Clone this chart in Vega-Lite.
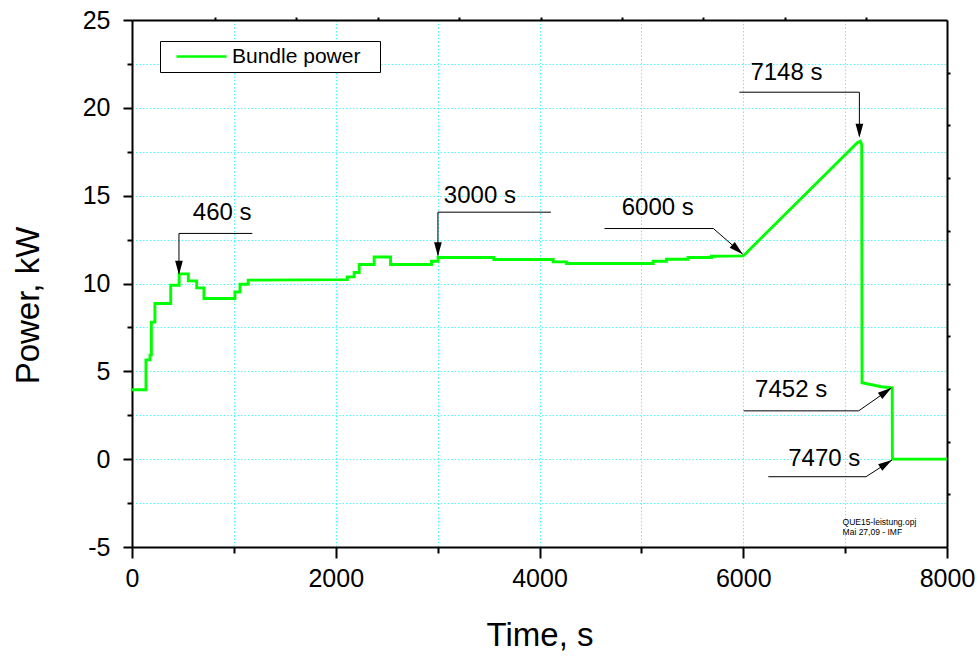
{
  "$schema": "https://vega.github.io/schema/vega-lite/v6.json",
  "width": 815,
  "height": 527,
  "autosize": {"type": "none"},
  "padding": {"left": 132, "top": 20, "right": 33, "bottom": 112},
  "background": "white",
  "config": {
    "font": "Liberation Sans",
    "view": {"stroke": null},
    "axis": {
      "domainColor": "black",
      "domainWidth": 2,
      "tickColor": "black",
      "tickWidth": 2,
      "labelColor": "black",
      "labelFontSize": 25,
      "labelFlush": false,
      "labelOverlap": false,
      "titleColor": "black",
      "titleFontWeight": "normal",
      "titleFontSize": 33,
      "gridColor": "#00ffff",
      "gridOpacity": 0.7,
      "gridDash": [1.5, 2],
      "gridWidth": 1
    }
  },
  "datasets": {
    "power": [
      {"i": 0, "t": 0, "p": 3.95},
      {"i": 1, "t": 137, "p": 3.95},
      {"i": 2, "t": 137, "p": 5.65},
      {"i": 3, "t": 177, "p": 5.65},
      {"i": 4, "t": 177, "p": 5.92},
      {"i": 5, "t": 190, "p": 5.92},
      {"i": 6, "t": 190, "p": 7.8},
      {"i": 7, "t": 225, "p": 7.8},
      {"i": 8, "t": 225, "p": 8.86},
      {"i": 9, "t": 380, "p": 8.86},
      {"i": 10, "t": 380, "p": 9.9},
      {"i": 11, "t": 463, "p": 9.9},
      {"i": 12, "t": 463, "p": 10.55},
      {"i": 13, "t": 553, "p": 10.55},
      {"i": 14, "t": 553, "p": 10.15},
      {"i": 15, "t": 635, "p": 10.15},
      {"i": 16, "t": 635, "p": 9.75},
      {"i": 17, "t": 706, "p": 9.75},
      {"i": 18, "t": 706, "p": 9.15},
      {"i": 19, "t": 1010, "p": 9.15},
      {"i": 20, "t": 1010, "p": 9.52},
      {"i": 21, "t": 1060, "p": 9.52},
      {"i": 22, "t": 1060, "p": 9.96},
      {"i": 23, "t": 1141, "p": 9.96},
      {"i": 24, "t": 1141, "p": 10.19},
      {"i": 25, "t": 2113, "p": 10.22},
      {"i": 26, "t": 2113, "p": 10.38},
      {"i": 27, "t": 2181, "p": 10.38},
      {"i": 28, "t": 2181, "p": 10.63},
      {"i": 29, "t": 2230, "p": 10.63},
      {"i": 30, "t": 2230, "p": 11.08},
      {"i": 31, "t": 2377, "p": 11.08},
      {"i": 32, "t": 2377, "p": 11.51},
      {"i": 33, "t": 2538, "p": 11.51},
      {"i": 34, "t": 2538, "p": 11.08},
      {"i": 35, "t": 2940, "p": 11.08},
      {"i": 36, "t": 2940, "p": 11.27},
      {"i": 37, "t": 3005, "p": 11.27},
      {"i": 38, "t": 3005, "p": 11.48},
      {"i": 39, "t": 3552, "p": 11.48},
      {"i": 40, "t": 3552, "p": 11.37},
      {"i": 41, "t": 4134, "p": 11.37},
      {"i": 42, "t": 4134, "p": 11.23},
      {"i": 43, "t": 4265, "p": 11.23},
      {"i": 44, "t": 4265, "p": 11.14},
      {"i": 45, "t": 5115, "p": 11.14},
      {"i": 46, "t": 5115, "p": 11.27},
      {"i": 47, "t": 5246, "p": 11.27},
      {"i": 48, "t": 5246, "p": 11.38},
      {"i": 49, "t": 5458, "p": 11.38},
      {"i": 50, "t": 5458, "p": 11.48},
      {"i": 51, "t": 5688, "p": 11.48},
      {"i": 52, "t": 5688, "p": 11.55},
      {"i": 53, "t": 6000, "p": 11.57},
      {"i": 54, "t": 7120, "p": 18.02},
      {"i": 55, "t": 7150, "p": 18.1},
      {"i": 56, "t": 7163, "p": 17.9},
      {"i": 57, "t": 7166, "p": 4.35},
      {"i": 58, "t": 7356, "p": 4.12},
      {"i": 59, "t": 7462, "p": 4.06},
      {"i": 60, "t": 7464, "p": 0},
      {"i": 61, "t": 8000, "p": 0}
    ],
    "segs": [
      {"x": 461, "y": 12.85, "x2": 1181, "y2": 12.85},
      {"x": 461, "y": 12.85, "x2": 461, "y2": 10.6},
      {"x": 3003, "y": 14.06, "x2": 4112, "y2": 14.06},
      {"x": 3003, "y": 14.06, "x2": 3003, "y2": 11.6},
      {"x": 4638, "y": 13.13, "x2": 5707, "y2": 13.13},
      {"x": 5707, "y": 13.13, "x2": 5995, "y2": 11.67},
      {"x": 5962, "y": 20.89, "x2": 7140, "y2": 20.89},
      {"x": 7140, "y": 20.89, "x2": 7140, "y2": 18.4},
      {"x": 6004, "y": 2.75, "x2": 7133, "y2": 2.75},
      {"x": 7133, "y": 2.75, "x2": 7456, "y2": 4.06},
      {"x": 6246, "y": -1.0, "x2": 7205, "y2": -1.0},
      {"x": 7205, "y": -1.0, "x2": 7460, "y2": -0.05}
    ],
    "arrows": [
      {"x": 461, "y": 10.5, "ang": 0},
      {"x": 3003, "y": 11.55, "ang": 0},
      {"x": 5995, "y": 11.67, "ang": 311.3},
      {"x": 7140, "y": 18.3, "ang": 0},
      {"x": 7456, "y": 4.06, "ang": 235.1},
      {"x": 7460, "y": -0.05, "ang": 237.3}
    ],
    "labels": [
      {"x": 885, "y": 14.0, "text": "460 s"},
      {"x": 3415, "y": 14.97, "text": "3000 s"},
      {"x": 5161, "y": 14.27, "text": "6000 s"},
      {"x": 6424, "y": 21.97, "text": "7148 s"},
      {"x": 6470, "y": 3.95, "text": "7452 s"},
      {"x": 6795, "y": 0.02, "text": "7470 s"}
    ],
    "note": [
      {"x": 6975, "y": -3.6, "text": "QUE15-leistung.opj"},
      {"x": 6975, "y": -4.17, "text": "Mai 27,09 - IMF"}
    ]
  },
  "resolve": {"axis": {"x": "independent", "y": "independent"}},
  "layer": [
    {
      "data": {"name": "power"},
      "mark": {"type": "line", "strokeWidth": 2.9},
      "encoding": {
        "x": {
          "field": "t", "type": "quantitative",
          "scale": {"domain": [0, 8000], "nice": false, "zero": false},
          "axis": {
            "orient": "bottom",
            "values": [0, 1000, 2000, 3000, 4000, 5000, 6000, 7000, 8000],
            "format": "d",
            "labelExpr": "datum.value % 2000 === 0 ? datum.label : ''",
            "grid": true,
            "tickSize": {"condition": {"test": "datum.value % 2000 === 0", "value": 11}, "value": 6},
            "labelPadding": 8,
            "title": "Time, s",
            "titlePadding": 28
          }
        },
        "y": {
          "field": "p", "type": "quantitative",
          "scale": {"domain": [-5, 25], "nice": false, "zero": false},
          "axis": {
            "orient": "left",
            "values": [-5, -2.5, 0, 2.5, 5, 7.5, 10, 12.5, 15, 17.5, 20, 22.5, 25],
            "labelExpr": "datum.value % 5 === 0 ? ('' + datum.value) : ''",
            "grid": true,
            "tickSize": {"condition": {"test": "datum.value % 5 === 0", "value": 9}, "value": 5},
            "labelPadding": 13,
            "title": "Power, kW",
            "titleY": 285,
            "titlePadding": 37
          }
        },
        "order": {"field": "i", "type": "quantitative"},
        "color": {
          "datum": "Bundle power",
          "scale": {"range": ["#00ff00"]},
          "legend": {
            "orient": "none",
            "legendX": 28,
            "legendY": 21,
            "title": ".",
            "titleOrient": "right",
            "titleColor": "white",
            "titleFontSize": 21,
            "titleFontWeight": "normal",
            "titlePadding": 9,
            "symbolType": "M-5,0L5,0",
            "symbolSize": 100,
            "symbolStrokeWidth": 2.5,
            "symbolOffset": 26,
            "labelOffset": 20,
            "labelFontSize": 21,
            "labelColor": "black",
            "labelFont": "Liberation Sans",
            "strokeColor": "black",
            "fillColor": "white",
            "padding": 5
          }
        }
      }
    },
    {
      "data": {"name": "segs"},
      "mark": {"type": "rule", "color": "black", "strokeWidth": 1},
      "encoding": {
        "x": {"field": "x", "type": "quantitative", "axis": null},
        "y": {"field": "y", "type": "quantitative", "axis": null},
        "x2": {"field": "x2"},
        "y2": {"field": "y2"}
      }
    },
    {
      "data": {"name": "arrows"},
      "mark": {"type": "point", "shape": "M0,0L-0.55,-2L0.55,-2Z", "size": 196, "filled": true, "color": "black", "opacity": 1},
      "encoding": {
        "x": {"field": "x", "type": "quantitative", "axis": null},
        "y": {"field": "y", "type": "quantitative", "axis": null},
        "angle": {"field": "ang", "type": "quantitative", "scale": null}
      }
    },
    {
      "data": {"name": "labels"},
      "mark": {"type": "text", "fontSize": 24, "align": "center", "baseline": "middle", "color": "black"},
      "encoding": {
        "x": {"field": "x", "type": "quantitative", "axis": null},
        "y": {"field": "y", "type": "quantitative", "axis": null},
        "text": {"field": "text"}
      }
    },
    {
      "data": {"name": "note"},
      "mark": {"type": "text", "fontSize": 8.5, "align": "left", "baseline": "middle", "color": "black"},
      "encoding": {
        "x": {
          "field": "x", "type": "quantitative",
          "axis": {
            "orient": "top",
            "values": [815, 1614, 2413, 3212, 4011, 4810, 5609, 6408, 7207],
            "labels": false,
            "grid": false,
            "tickSize": 3,
            "title": null
          }
        },
        "y": {
          "field": "y", "type": "quantitative",
          "axis": {
            "orient": "right",
            "values": [-2, 1, 4, 7, 10, 13, 16, 19, 22],
            "labels": false,
            "grid": false,
            "tickSize": 3,
            "title": null
          }
        },
        "text": {"field": "text"}
      }
    }
  ]
}
